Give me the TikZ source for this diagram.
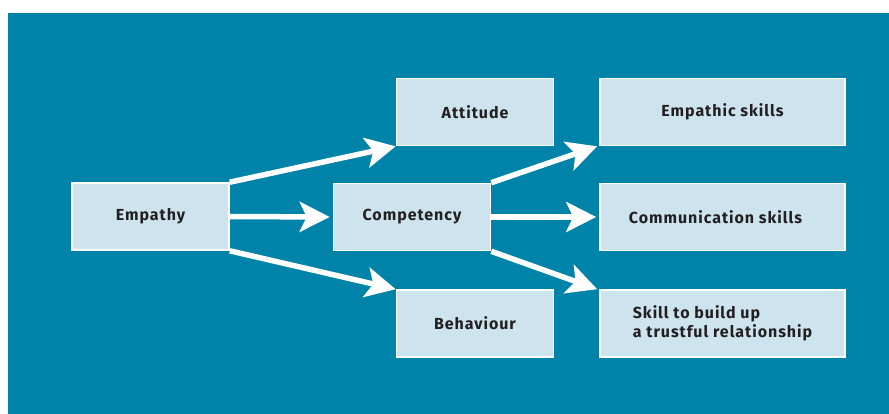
\documentclass[tikz,border=0pt]{standalone}
\usepackage{fontspec}
\setmainfont{Fira Sans}
\newfontfamily\boxfont[LetterSpace=6]{Fira Sans}
\usetikzlibrary{arrows.meta}

\definecolor{panel}{RGB}{0,131,168}
\definecolor{boxfill}{RGB}{205,228,238}
\definecolor{boxtext}{RGB}{35,31,32}

\tikzset{
    stage/.style={draw=white, line width=1.6pt, fill=boxfill, text=boxtext,
        font=\boxfont\fontsize{16}{19}\selectfont\bfseries, minimum width=157pt, minimum height=67pt},
    skill/.style={stage, minimum width=245pt, align=left},
    flow/.style={white, line width=5.5pt, -{Stealth[length=30pt, width=30pt, inset=7pt]}}
}

\begin{document}
\begin{tikzpicture}[x=1pt, y=-1pt]
    \useasboundingbox (0,0) rectangle (889,414);

    % Draw the panel
    \fill[panel] (8,13) rectangle (889,414);

    % Place the boxes
    \node[stage] (empathy) at (150.5,216.5) {Empathy};
    \node[stage] (attitude) at (475,112) {Attitude};
    \node[stage] (competency) at (412,217) {Competency};
    \node[stage] (behaviour) at (475,323.5) {Behaviour};
    \node[skill] (empathic) at (722.5,112) {Empathic skills};
    \node[skill] (communication) at (722.5,217) {Communication skills\hspace{14pt}};
    \node[skill] (trust) at (722.5,323.5) {Skill to build up\\a trustful relationship};

    % Draw the arrows
    \draw[flow] (empathy.north east) -- (attitude.south west);
    \draw[flow] (empathy.east) -- ([xshift=-3pt]competency.west);
    \draw[flow] (empathy.south east) -- (behaviour.north west);
    \draw[flow] (competency.north east) -- ([xshift=-2pt]empathic.south west);
    \draw[flow] (competency.east) -- ([xshift=-3pt]communication.west);
    \draw[flow] (competency.south east) -- ([xshift=-2pt]trust.north west);
\end{tikzpicture}
\end{document}
